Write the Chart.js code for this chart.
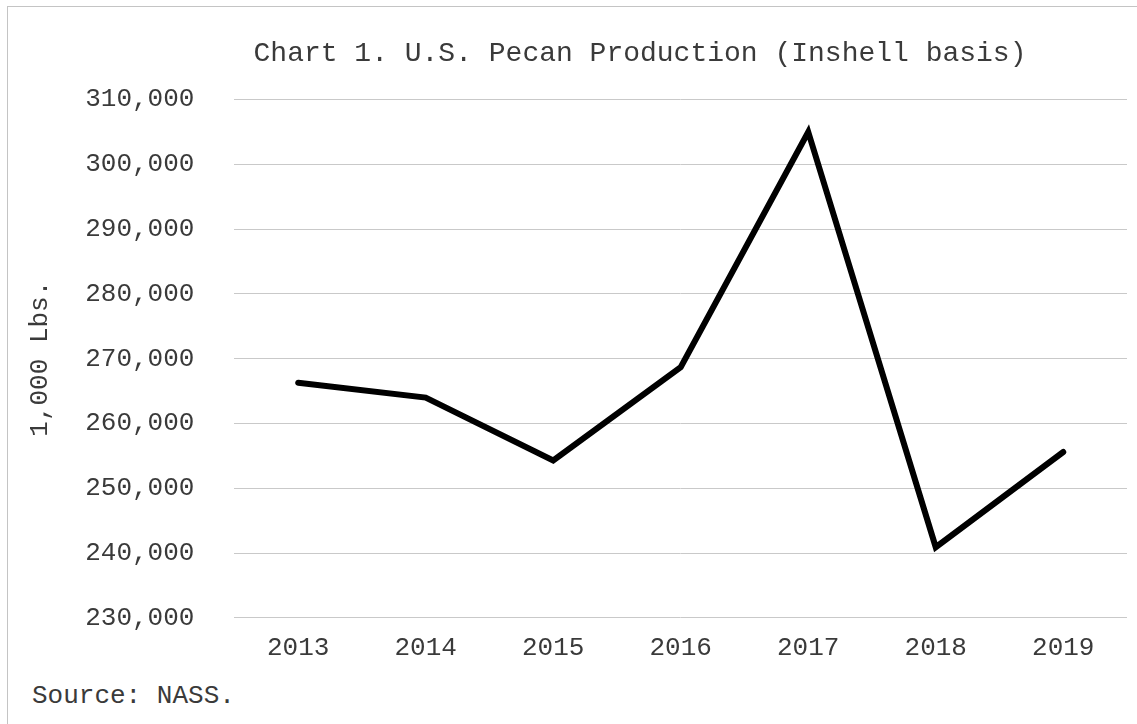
<!DOCTYPE html>
<html>
<head>
<meta charset="utf-8">
<script src="https://cdn.jsdelivr.net/npm/chart.js@4/dist/chart.umd.min.js"></script>
<style>
  html, body { margin: 0; padding: 0; overflow: hidden; background: #fff; }
  #frame {
    position: absolute; left: 7px; top: 6px;
    width: 1300px; height: 800px;
    border-left: 1px solid #c4c4c4; border-top: 1px solid #c4c4c4;
  }
  #chartBox { position: absolute; left: 0; top: 0; width: 1264px; height: 664px; }
  #source {
    position: absolute; left: 24px; top: 674px;
    font: 26px "Liberation Mono", "Courier New", monospace; color: #3a3a3a;
  }
</style>
</head>
<body>
<div id="frame">
  <div id="chartBox"><canvas id="lineChart"></canvas></div>
  <div id="source">Source: NASS.</div>
</div>
<script>
const years = ['2013', '2014', '2015', '2016', '2017', '2018', '2019'];
const production = [266300, 264000, 254300, 268700, 305000, 240900, 255600];
const yMin = 230000;
const yMax = 310000;
const yStep = 10000;

const mono = '"Liberation Mono", "Courier New", monospace';
const textColor = '#3a3a3a';

new Chart(document.getElementById('lineChart'), {
  type: 'line',
  data: {
    labels: years,
    datasets: [
      {
        label: 'Production',
        data: production,
        borderColor: '#000',
        borderWidth: 6,
        borderCapStyle: 'round',
        borderJoinStyle: 'miter',
        pointRadius: 0,
        tension: 0,
        fill: false,
      },
    ],
  },
  options: {
    responsive: true,
    maintainAspectRatio: false,
    animation: false,
    layout: { padding: { left: 10, right: 10, top: 10, bottom: 0 } },
    plugins: {
      legend: { display: false },
      tooltip: { enabled: false },
      title: {
        display: true,
        text: 'Chart 1. U.S. Pecan Production (Inshell basis)',
        color: textColor,
        font: { family: mono, size: 28, weight: 'normal' },
        padding: { top: 20, bottom: 29 },
      },
    },
    scales: {
      x: {
        offset: true,
        grid: { display: false },
        border: { display: false },
        ticks: {
          color: textColor,
          font: { family: mono, size: 26 },
          padding: 7,
          maxRotation: 0,
        },
      },
      y: {
        min: yMin,
        max: yMax,
        grid: { color: '#c9c9c9', lineWidth: 1, tickLength: 38, tickColor: 'rgba(0,0,0,0)' },
        border: { display: false },
        ticks: {
          stepSize: yStep,
          color: textColor,
          font: { family: mono, size: 26 },
          padding: 2,
          callback: v => v.toLocaleString('en-US'),
        },
        title: {
          display: true,
          text: '1,000 Lbs.',
          color: textColor,
          font: { family: mono, size: 26 },
          padding: { top: 7, bottom: 27 },
        },
      },
      spacer: {
        position: 'right',
        grid: { display: false },
        border: { display: false },
        ticks: { display: false },
        afterFit: scale => { scale.width = 135; },
      },
    },
  },
});
</script>
</body>
</html>
